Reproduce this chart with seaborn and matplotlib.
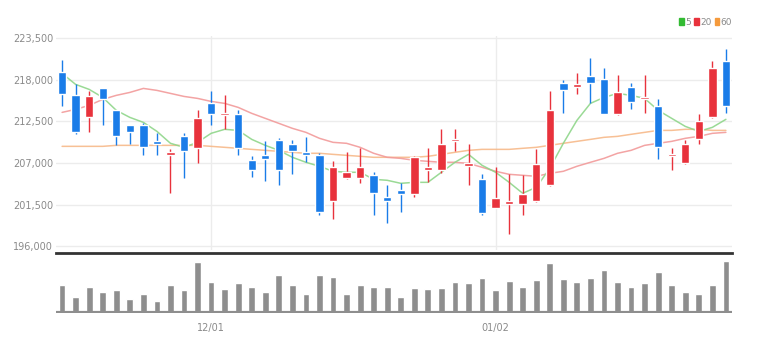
import numpy as np
import pandas as pd
import matplotlib
matplotlib.use("Agg")
import matplotlib.pyplot as plt
import seaborn as sns
from matplotlib.patches import Patch

# daily OHLC (won)
opens = [218990, 215950, 213040, 216870, 213960, 211980, 211980, 209870, 208020, 210530,
         208950, 214890, 213300, 213440, 207360, 208020, 210000, 209470, 208420, 208020,
         201940, 204980, 204980, 205380, 202470, 203400, 202870, 206040, 206040, 209870,
         206570, 204850, 201020, 201550, 201550, 201940, 204060, 217530, 217000, 218460,
         218060, 213440, 217000, 215420, 214490, 207890, 206960, 210130, 213040, 220440]
highs = [220570, 217400, 216480, 216950, 214000, 212050, 212250, 210930, 208810, 210930,
         213960, 216480, 215950, 213960, 207890, 209870, 210300, 210000, 210400, 208290,
         207230, 208420, 208950, 205780, 204060, 204320, 207890, 208950, 211460, 211460,
         209470, 205510, 206440, 205510, 205380, 208810, 216480, 217930, 218850, 220830,
         219510, 218590, 217530, 218590, 215420, 208950, 210000, 213440, 220440, 222020]
lows = [214490, 210900, 211060, 212000, 209340, 209470, 208020, 208020, 203000, 204980,
        206960, 211980, 211460, 208020, 205110, 204590, 204060, 205510, 207100, 200100,
        199570, 204900, 204320, 200100, 199040, 200490, 202470, 204450, 205640, 208550,
        204060, 200100, 201020, 197590, 200100, 201800, 203900, 213570, 216080, 214890,
        213440, 213300, 214100, 213570, 207490, 206040, 206900, 209470, 213000, 213570]
closes = [216070, 211060, 215810, 215410, 210530, 211060, 209080, 209470, 208420, 208550,
          212910, 213440, 213570, 208950, 206040, 207490, 206040, 208550, 208020, 200490,
          206440, 205780, 206440, 203000, 201940, 202870, 207760, 206440, 209470, 210130,
          206960, 200360, 202340, 201940, 202870, 206830, 213970, 216610, 217400, 217530,
          213440, 216340, 215020, 215550, 209080, 208020, 209470, 212510, 219510, 214490]

# moving averages
ma5 = [218850, 217400, 216740, 215680, 213970, 213040, 212380, 211190, 209610, 209080,
       209740, 210930, 211460, 211320, 210130, 209340, 208680, 207760, 207100, 206570,
       205910, 205780, 205780, 204850, 204720, 204320, 204450, 204450, 205780, 207100,
       208150, 206700, 205780, 204450, 203000, 203790, 206300, 209610, 212640, 214890,
       215680, 216210, 215950, 215550, 213970, 212910, 211850, 211190, 211720, 212780]
ma20 = [213700, 214100, 214630, 215420, 215950, 216340, 216870, 216610, 216210, 215810,
        215550, 215150, 214890, 214360, 213570, 212910, 212250, 211590, 211060, 210270,
        209740, 209610, 209080, 208290, 207760, 207620, 207360, 207230, 207100, 207100,
        206960, 206440, 205910, 205510, 205380, 205250, 205640, 205910, 206570, 207100,
        207620, 208290, 208680, 209340, 209610, 209870, 210270, 210530, 210930, 211060]
ma60 = [209210, 209210, 209210, 209210, 209340, 209340, 209340, 209340, 209340, 209340,
        209340, 209210, 209080, 208950, 208810, 208680, 208550, 208420, 208290, 208290,
        208150, 208020, 207890, 207760, 207760, 207760, 207760, 207890, 208150, 208420,
        208680, 208810, 208810, 208810, 208950, 209080, 209340, 209610, 209870, 210130,
        210400, 210530, 210800, 211060, 211320, 211320, 211460, 211460, 211320, 211320]

# volume (thousand shares, relative)
volume = [83, 48, 77, 63, 67, 40, 55, 35, 82, 69,
          150, 90, 72, 88, 77, 63, 112, 82, 55, 111,
          105, 57, 83, 77, 77, 48, 73, 72, 73, 91,
          88, 102, 68, 95, 77, 97, 148, 100, 92, 102,
          126, 91, 77, 88, 121, 83, 63, 55, 83, 154]

tick_pos = [11, 32]
tick_labels = ["12/01", "01/02"]
yticks = [196000, 201500, 207000, 212500, 218000, 223500]

UP = "#e8323c"
DOWN = "#1a7ce8"

sns.set_style("white")
plt.rcParams["font.family"] = ["Liberation Sans Narrow", "DejaVu Sans"]

df = pd.DataFrame({"idx": np.arange(len(opens)), "open": opens, "high": highs,
                   "low": lows, "close": closes, "ma5": ma5, "ma20": ma20,
                   "ma60": ma60, "volume": volume})
df["color"] = np.where(df["close"] >= df["open"], UP, DOWN)

fig = plt.figure(figsize=(7.64, 3.51), dpi=100)
ax = fig.add_axes([0.0733, 0.2877, 0.8848, 0.6097])
axv = fig.add_axes([0.0733, 0.1083, 0.8848, 0.1709])

# price panel
for col, c in [("ma60", "#f7b98a"), ("ma20", "#f29a9a"), ("ma5", "#8fd68a")]:
    sns.lineplot(data=df, x="idx", y=col, ax=ax, color=c, lw=1.1, alpha=0.9, zorder=2)

ax.vlines(df["idx"], df["low"], df["high"], colors=df["color"], lw=1, zorder=3)
body_lo = np.minimum(df["open"], df["close"])
body_h = np.maximum(np.abs(df["close"] - df["open"]), 260)
ax.bar(df["idx"], body_h, bottom=body_lo, width=0.62, color=df["color"], zorder=4)

ax.set_xlim(-0.45, 49.45)
ax.set_ylim(195500, 223800)
ax.set_yticks(yticks)
ax.set_yticklabels([f"{v:,}" for v in yticks])
ax.set_xticks(tick_pos)
ax.set_xticklabels([])
ax.grid(True, color="#ececec", lw=1)
ax.set_xlabel("")
ax.set_ylabel("")
ax.tick_params(axis="y", length=0, labelsize=7, labelcolor="#8a8a8a", pad=2)
ax.tick_params(axis="x", length=0)
for s in ax.spines.values():
    s.set_visible(False)

# volume panel
sns.barplot(data=df, x="idx", y="volume", ax=axv, native_scale=True,
            color="#8e8e8e", width=0.5, errorbar=None, saturation=1)
axv.set_xlim(-0.45, 49.45)
axv.set_ylim(0, 177)
axv.set_yticks([])
axv.set_xticks(tick_pos)
axv.set_xticklabels(tick_labels)
axv.set_xlabel("")
axv.set_ylabel("")
axv.tick_params(axis="x", length=4, width=0.8, color="#444444", labelsize=7,
                labelcolor="#8a8a8a", pad=3)
for s in axv.spines.values():
    s.set_visible(False)
axv.spines["top"].set_visible(True)
axv.spines["top"].set_color("#333333")
axv.spines["top"].set_linewidth(2)
axv.axhline(0, color="#8e8e8e", lw=3, zorder=5)

# legend
handles = [Patch(color="#33bb33", label="5"), Patch(color="#e8323c", label="20"),
           Patch(color="#f59a3c", label="60")]
fig.legend(handles=handles, loc="upper right", bbox_to_anchor=(0.964, 0.962), ncol=3,
           frameon=False, fontsize=6.5, handlelength=0.5, handleheight=0.8,
           handletextpad=0.15, columnspacing=0.35, labelcolor="#8a8a8a", borderpad=0)

fig.savefig("out.png", dpi=100)
